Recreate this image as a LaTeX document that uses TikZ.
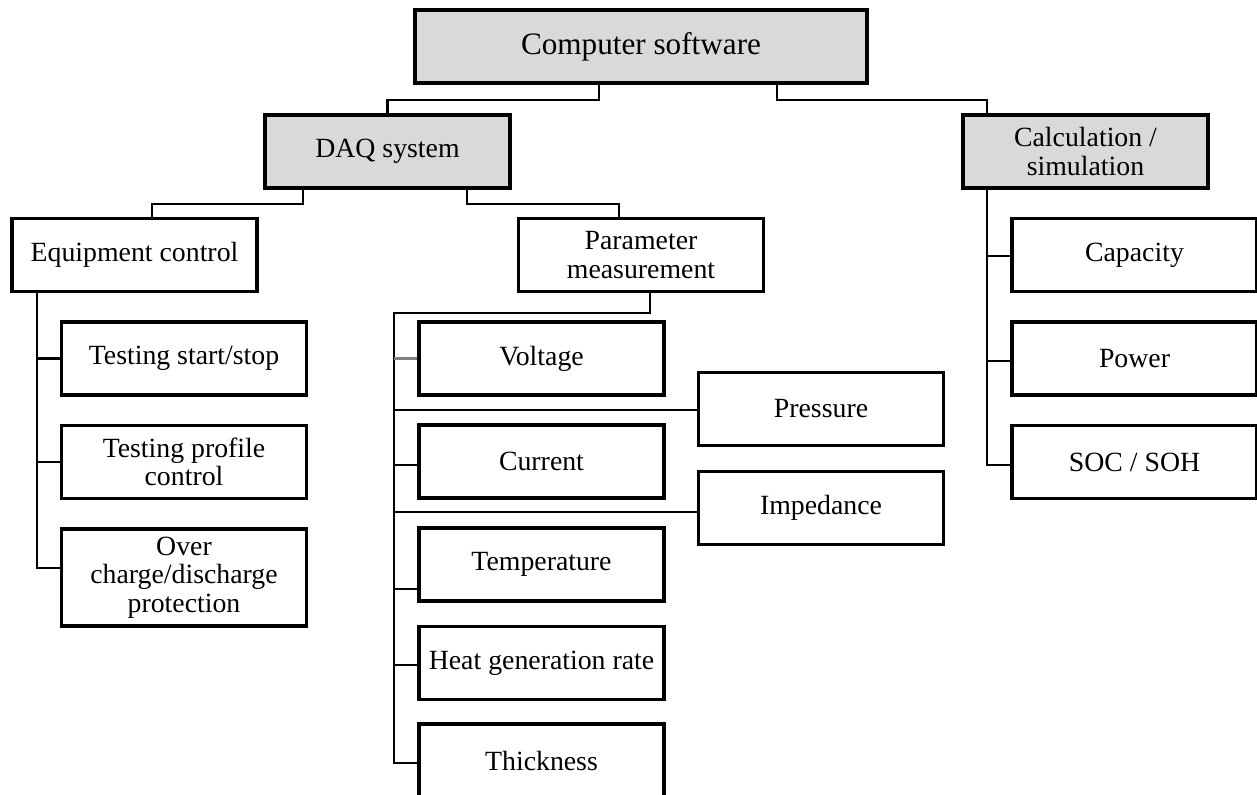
\documentclass[tikz,border=0pt]{standalone}
\usepackage{fontspec}
\setmainfont{Liberation Serif}
\begin{document}
\begin{tikzpicture}[x=0.5pt,y=-0.5pt,
  box/.style={draw=black,line width=1.6pt,minimum width=122.5pt,minimum height=36.5pt,
    inner sep=0pt,align=center,font=\fontsize{13.9}{14.2}\selectfont},
  head/.style={box,fill=headgray},
  link/.style={line width=1.4pt,line join=miter},
  faint/.style={link,draw=gray}]
\definecolor{headgray}{HTML}{D9D9D9}
\useasboundingbox[fill=white] (0,0) rectangle (1257,795);

% top level
\node[head,minimum width=226pt,font=\fontsize{15.6}{16}\selectfont] (cs) at (641,46.5) {Computer software};
\node[head] (daq) at (387.5,151.5) {DAQ system};
\node[head] (calc) at (1085.5,151.5) {Calculation /\\simulation};

% DAQ branches
\node[box] (eq) at (134.5,255) {Equipment control};
\node[box] (pm) at (641,255) {Parameter\\measurement};

% equipment control items
\node[box] (t1) at (184,358.5) {Testing start/stop};
\node[box] (t2) at (184,462) {Testing profile\\control};
\node[box,minimum height=48.5pt] (ov) at (184,577.5) {Over\\charge/discharge\\protection};

% measured parameters
\node[box] (vo) at (541.5,358.5) {Voltage};
\node[box] (cu) at (541.5,461.5) {Current};
\node[box] (te) at (541.5,564.5) {Temperature};
\node[box] (he) at (541.5,663) {Heat generation rate};
\node[box] (th) at (541.5,760.5) {Thickness};
\node[box] (pr) at (821,409) {Pressure};
\node[box] (im) at (821,508) {Impedance};

% calculation items
\node[box] (cap) at (1134.5,255) {Capacity};
\node[box] (pow) at (1134.5,358.5) {Power};
\node[box] (soc) at (1134.5,462) {SOC / SOH};

% connectors from the root
\draw[link] (cs.south -| 599,0) -- (599,100) -| (daq.north);
\draw[link] (cs.south -| 777,0) -- (777,100) -| (calc.north -| 987,0);

% connectors from the DAQ system
\draw[link] (daq.south -| 303,0) -- (303,204) -| (eq.north -| 152,0);
\draw[link] (daq.south -| 467,0) -- (467,204) -| (pm.north -| 619,0);

% equipment control trunk
\draw[link] (eq.south -| 37,0) |- (ov.west |- 0,568);
\draw[link] (37,0 |- t1.west) -- (t1.west);
\draw[link] (37,0 |- t2.west) -- (t2.west);

% parameter measurement trunk
\draw[link] (pm.south -| 650,0) -- (650,313) -- (394,313) |- (th.west |- 0,763);
\draw[faint] (394,0 |- vo.west) -- (vo.west);
\draw[link] (394,410) -- (pr.west |- 0,410);
\draw[link] (394,465) -- (cu.west |- 0,465);
\draw[link] (394,512) -- (im.west |- 0,512);
\draw[link] (394,589) -- (te.west |- 0,589);
\draw[link] (394,665) -- (he.west |- 0,665);

% calculation trunk
\draw[link] (calc.south -| 987,0) |- (soc.west |- 0,465);
\draw[link] (987,256) -- (cap.west |- 0,256);
\draw[link] (987,361) -- (pow.west |- 0,361);
\end{tikzpicture}
\end{document}
